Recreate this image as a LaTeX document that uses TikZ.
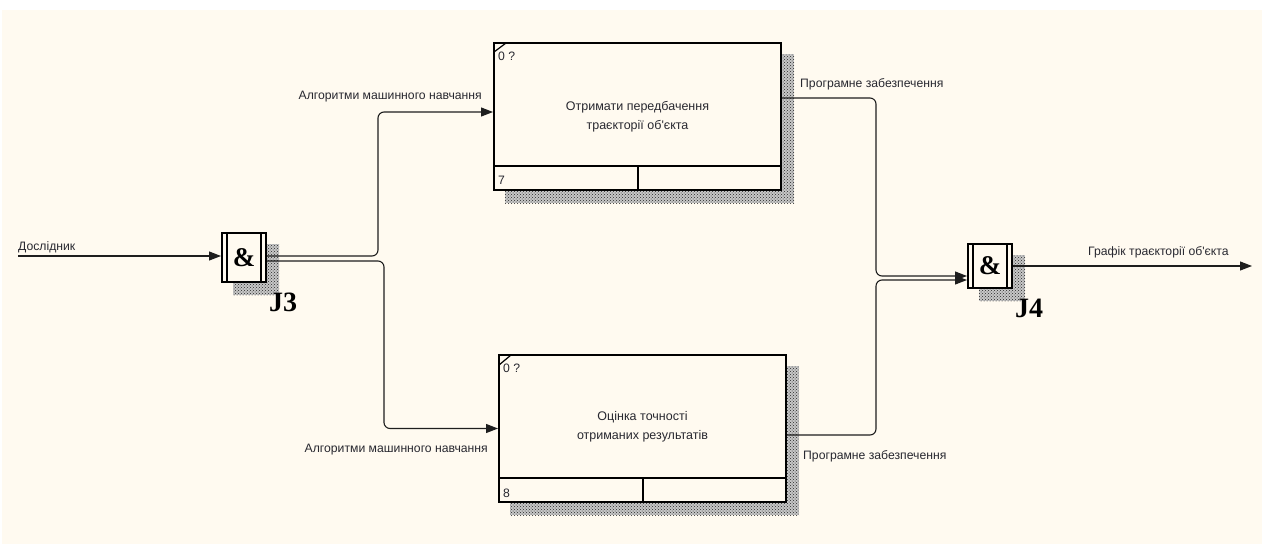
\documentclass[tikz,border=0pt]{standalone}
\usepackage{fontspec}
\setmainfont{Liberation Sans}[Ligatures=TeXOff]
\newfontfamily\jfont{Liberation Serif}
\usetikzlibrary{arrows.meta,patterns}

\definecolor{paper}{RGB}{255,250,240}
\definecolor{ink}{RGB}{40,40,48}
\definecolor{wire}{RGB}{30,30,30}

\pgfdeclarelayer{bg}
\pgfsetlayers{bg,main}

\tikzset{
  lbl/.style={font=\fontsize{12.2}{14}\selectfont, text=ink, inner sep=0pt},
  boxtext/.style={font=\fontsize{12.5}{19}\selectfont, text=ink, align=center, inner sep=0pt},
  func/.style={draw=black, line width=2pt, fill=paper, minimum width=287pt, minimum height=147pt, inner sep=0pt},
  junction/.style={draw=black, line width=2pt, fill=paper, inner sep=0pt,
    font=\jfont\bfseries\fontsize{27}{27}\selectfont},
  jlabel/.style={font=\jfont\bfseries\fontsize{28}{28}\selectfont, inner sep=0pt},
  conn/.style={draw=wire, line width=1.1pt, rounded corners=6pt},
  tip/.style={-{Triangle[length=12pt,width=9pt]}},
  shadebase/.style={fill=black!22},
  shade/.style={pattern=crosshatch dots, pattern color=black!85},
}

\begin{document}
\begin{tikzpicture}[x=1pt,y=-1pt]
% page and sheet
\begin{pgfonlayer}{bg}
  \fill[white] (0,0) rectangle (1264,544);
  \fill[paper] (2,10) rectangle (1262,544);
\end{pgfonlayer}
\useasboundingbox (0,0) rectangle (1264,544);

% activity boxes
\node[func] (box1) at (637.5,116.5) {};
\node[func] (box2) at (642.5,428.5) {};

% junctions
\node[junction, minimum width=44pt, minimum height=49pt] (j3) at (244,257.5) {\&};
\node[junction, minimum width=44pt, minimum height=44pt] (j4) at (990,266) {\&};

% drop shadows
\begin{pgfonlayer}{bg}
  \foreach \n in {box1,box2,j3,j4} {
    \fill[shadebase] ([shift={(12,12)}]\n.south west) rectangle ([shift={(12,12)}]\n.north east);
    \fill[shade] ([shift={(12,12)}]\n.south west) rectangle ([shift={(12,12)}]\n.north east);
  }
\end{pgfonlayer}

% box footers
\foreach \n in {box1,box2} {
  \draw[line width=2pt] ([yshift=25pt]\n.south west) -- ([yshift=25pt]\n.south east);
  \draw[line width=2pt] (\n.south) -- ([yshift=25pt]\n.south);
}
% junction side bars
\foreach \n in {j3,j4} {
  \draw[line width=2pt] ([xshift=6pt]\n.north west) -- ([xshift=6pt]\n.south west);
  \draw[line width=2pt] ([xshift=-6pt]\n.north east) -- ([xshift=-6pt]\n.south east);
}
% corner ticks
\draw[line width=1.2pt] (494,52) -- (506,43);
\draw[line width=1.2pt] (499,365) -- (511,355);

% box texts
\node[boxtext] (t1) at (box1) {Отримати передбачення\\траєкторії об'єкта};
\node[boxtext] (t2) at ([yshift=1.5pt]box2) {Оцінка точності\\отриманих результатів};
\node[lbl, anchor=base west] (n1) at (498,60) {0 ?};
\node[lbl, anchor=base west] (n2) at (503,372) {0 ?};
\node[lbl, anchor=base west] (k1) at (498,184) {7};
\node[lbl, anchor=base west] (k2) at (503,497) {8};

% junction names
\node[jlabel] (l3) at (283,302.5) {J3};
\node[jlabel] (l4) at (1029,308) {J4};

% connectors
\coordinate (in1) at (18,256);
\coordinate (out1) at (1252,266);
\draw[conn, tip] (in1) -- (in1 -| j3.west);
\draw[conn, tip] ([yshift=1.5pt]j3.east) -- ++(111,0) |- ([yshift=4.5pt]box1.west);
\draw[conn, tip] ([yshift=-3.5pt]j3.east) -- ++(117,0) |- (box2.west);
\draw[conn, tip] ([yshift=18.5pt]box1.east) -- ++(94,0) |- ([yshift=-10pt]j4.west);
\draw[conn, tip] ([yshift=-6.5pt]box2.east) -- ++(89,0) |- ([yshift=-14pt]j4.west);
\draw[conn, tip] (j4.east) -- (out1);

% arrow labels
\node[lbl, anchor=base west] (a0) at (18,250) {Дослідник};
\node[lbl, anchor=base east] (a1) at (482,99) {Алгоритми машинного навчання};
\node[lbl, anchor=base east] (a2) at (488,452) {Алгоритми машинного навчання};
\node[lbl, anchor=base west] (a3) at (800,87) {Програмне забезпечення};
\node[lbl, anchor=base west] (a4) at (803,459) {Програмне забезпечення};
\node[lbl, anchor=base west] (a5) at (1088,255) {Графік траєкторії об'єкта};
\end{tikzpicture}
\end{document}
